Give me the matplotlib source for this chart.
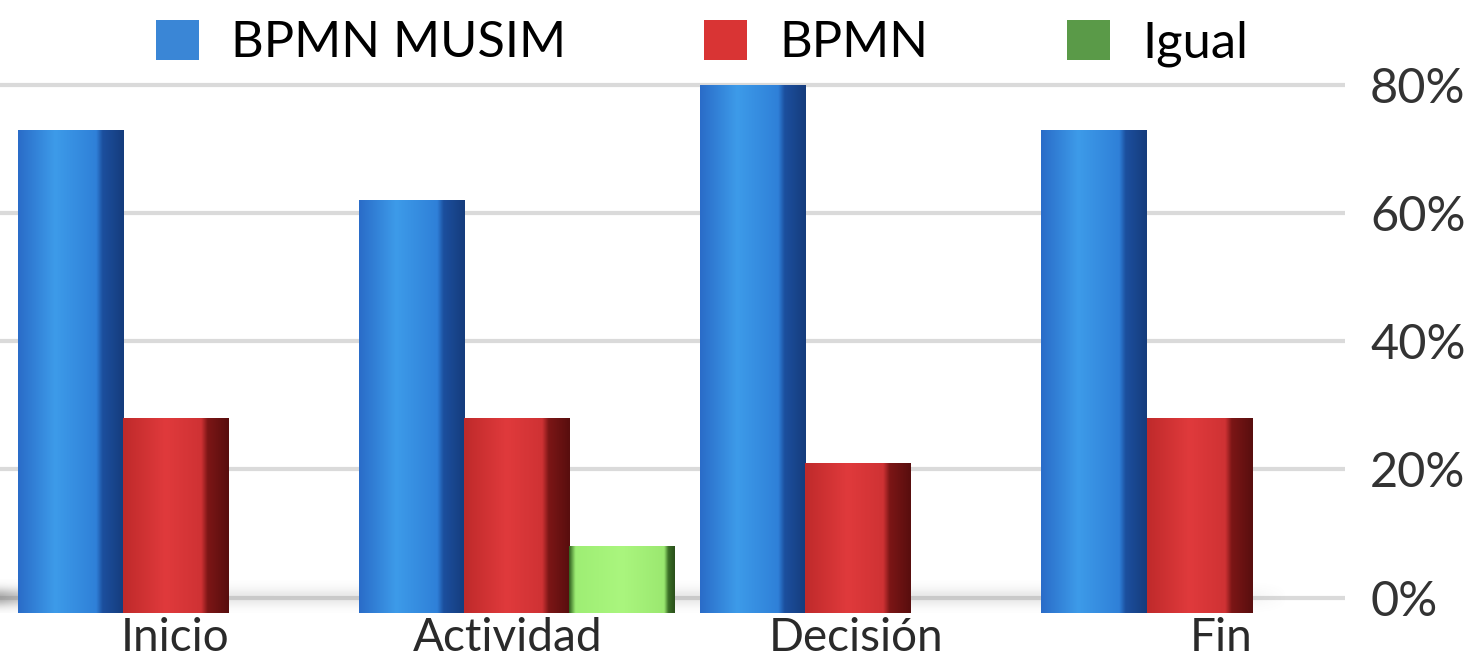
import numpy as np
import matplotlib
matplotlib.use("Agg")
import matplotlib.pyplot as plt
from matplotlib.colors import LinearSegmentedColormap
from matplotlib.patches import Patch

plt.rcParams['font.family'] = ['Lato', 'DejaVu Sans']

# ---- data ----
categories = ['Inicio', 'Actividad', 'Decisión', 'Fin']
series_names = ['BPMN MUSIM', 'BPMN', 'Igual']
bpmn_musim = [73, 62, 80, 73]
bpmn = [28, 28, 21, 28]
igual = [0, 8, 0, 0]
yticks = [0, 20, 40, 60, 80]
ytick_labels = ['0%', '20%', '40%', '60%', '80%']

# ---- style ----
W, H = 1474, 664
fig = plt.figure(figsize=(W / 100, H / 100), dpi=100)
ax = fig.add_axes([0, (H - 613) / H, 1345 / W, 560 / H])

floor = -2.4
group_step = 3.25
bar_w = 1.0
label_offsets = [1.0, 0.92, 0.98, 1.21]

cmaps = [
    LinearSegmentedColormap.from_list('b', [(0, '#2a6cc8'), (0.35, '#3d9be9'), (0.74, '#2f80d8'),
                                            (0.8, '#1c4f9e'), (1, '#153c7c')]),
    LinearSegmentedColormap.from_list('r', [(0, '#bf2a2b'), (0.4, '#e03a3c'), (0.74, '#cf3234'),
                                            (0.8, '#7c1616'), (1, '#580e0e')]),
    LinearSegmentedColormap.from_list('g', [(0, '#2f5f1e'), (0.06, '#9eee74'), (0.5, '#aaf67e'),
                                            (0.9, '#9be870'), (0.94, '#3a6e26'), (1, '#2a501b')]),
]
legend_colors = ['#3a86d6', '#d93434', '#5a9a48']

groups = np.arange(len(categories)) * group_step
series = [bpmn_musim, bpmn, igual]

# soft floor shadow
shadow = np.zeros((60, 400, 4))
yy = np.linspace(-1, 1, 60)[:, None]
xx = np.linspace(0, 1, 400)[None, :]
alpha = np.exp(-(yy / 0.5) ** 2) * (0.18 + 0.45 * np.exp(-xx / 0.03)) * (1 - np.clip((xx - 0.93) / 0.07, 0, 1))
shadow[..., :3] = 0.5
shadow[..., 3] = alpha
ax.imshow(shadow, extent=[-0.667, 11.6, -2.8, 2.8], aspect='auto', zorder=1.5, origin='lower',
          interpolation='bicubic')

grad = np.linspace(0, 1, 256).reshape(1, -1)
for j, vals in enumerate(series):
    for i, v in enumerate(vals):
        if v <= 0:
            continue
        rect = ax.bar(groups[i] + j, v - floor, bottom=floor, width=bar_w,
                      color='none', edgecolor='none', zorder=3 + j)[0]
        x0, y0 = rect.get_x(), rect.get_y()
        im = ax.imshow(grad, cmap=cmaps[j], extent=[x0, x0 + rect.get_width(), y0, y0 + rect.get_height()],
                       aspect='auto', zorder=3 + j, interpolation='bicubic')
        im.set_clip_path(rect)

ax.set_xlim(-0.667, 12.14)
ax.set_ylim(floor, 85)

ax.set_yticks(yticks)
ax.set_yticklabels(ytick_labels)
ax.yaxis.tick_right()
ax.tick_params(axis='y', length=0, pad=18, labelsize=35, labelcolor='#333333')
ax.set_xticks(groups + np.array(label_offsets))
ax.set_xticklabels(categories)
ax.tick_params(axis='x', length=0, pad=3, labelsize=33, labelcolor='#2a2a2a')
ax.grid(axis='y', color='#dadada', lw=3)
ax.set_axisbelow(True)
for s in ax.spines.values():
    s.set_visible(False)

handles = [Patch(facecolor=c, edgecolor='none') for c in legend_colors]
fig.legend(handles, series_names, loc='upper left', bbox_to_anchor=(148 / W, 1.0 - 12 / H),
           ncol=3, frameon=False, fontsize=36.5, handlelength=0.85, handleheight=0.85,
           handletextpad=0.64, columnspacing=2.72, borderpad=0.15, borderaxespad=0)

fig.savefig('out.png', dpi=100)
